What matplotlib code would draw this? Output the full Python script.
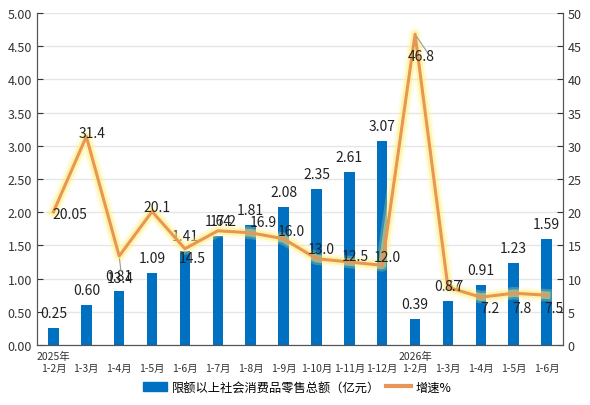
import matplotlib
matplotlib.use('Agg')
import matplotlib.pyplot as plt
import matplotlib.patheffects as pe
import numpy as np

plt.rcParams['font.family'] = ['Noto Sans CJK SC', 'DejaVu Sans']

# data
months = ['2025年\n1-2月', '1-3月', '1-4月', '1-5月', '1-6月', '1-7月', '1-8月', '1-9月',
          '1-10月', '1-11月', '1-12月', '2026年\n1-2月', '1-3月', '1-4月', '1-5月', '1-6月']
sales = [0.25, 0.60, 0.81, 1.09, 1.41, 1.64, 1.81, 2.08, 2.35, 2.61, 3.07, 0.39, 0.67, 0.91, 1.23, 1.59]
growth = [20.05, 31.4, 13.4, 20.1, 14.5, 17.2, 16.9, 16.0, 13.0, 12.5, 12.0, 46.8, 8.7, 7.2, 7.8, 7.5]
growth_txt = ['20.05', '31.4', '13.4', '20.1', '14.5', '17.2', '16.9', '16.0', '13.0', '12.5', '12.0',
              '46.8', '8.7', '7.2', '7.8', '7.5']

# label centre offsets from the point, in pixels (dx right, dy down)
lab_off = [(16, 2), (6, -3.5), (1, 22), (5, -4.5), (7, 9), (5, -10), (13, -11), (8, -8),
           (5, -10), (6, -6), (5, -8), (6, 22), (6, -1), (9, 11), (8, 15), (7, 13)]

bar_color = '#0070C0'
line_color = '#E8955A'
px = 72.0 / 100  # points per pixel

x = np.arange(len(months))

fig = plt.figure(figsize=(5.9, 4.06), dpi=100)
ax = fig.add_axes([37/590, 60/406, 526/590, 332/406])
ax2 = ax.twinx()

ax.bar(x, sales, width=0.32, color=bar_color, zorder=2)
for xi, v in zip(x, sales):
    ax.annotate('%.2f' % v, (xi, v), xytext=(0, -15 * -px), textcoords='offset points',
                ha='center', va='center', fontsize=10, color='#222222', zorder=5)

ax2.plot(x, growth, color=line_color, linewidth=2.2, zorder=3,
         path_effects=[pe.Stroke(linewidth=9, foreground='#FFF58A', alpha=0.25),
                       pe.Stroke(linewidth=5.5, foreground='#FFEE66', alpha=0.45),
                       pe.Normal()])
for i, (xi, v) in enumerate(zip(x, growth)):
    dx, dy = lab_off[i]
    ax2.annotate(growth_txt[i], (xi, v), xytext=(dx * px, -dy * px), textcoords='offset points',
                 ha='center', va='center', fontsize=10, color='#222222', zorder=6)
# leader lines
ax2.annotate('', (x[2], growth[2]), xytext=(x[2] + 0.06, growth[2] - 2.6),
             arrowprops=dict(arrowstyle='-', color='#999999', lw=0.8))
ax2.annotate('', (x[11], growth[11]), xytext=(x[11] + 0.45, growth[11] - 3.3),
             arrowprops=dict(arrowstyle='-', color='#999999', lw=0.8))

ax.set_xlim(-0.5, len(months) - 0.5)
ax.set_ylim(0, 5)
ax2.set_ylim(0, 50)
ax.set_yticks(np.arange(0, 5.01, 0.5))
ax.set_yticklabels(['%.2f' % t for t in np.arange(0, 5.01, 0.5)])
ax2.set_yticks(np.arange(0, 51, 5))
ax.set_xticks(x)
ax.set_xticklabels([m if '\n' in m else '\n' + m for m in months], fontsize=7.5, linespacing=1.25)
ax.tick_params(axis='x', length=0, pad=4, colors='#333333')
ax.tick_params(axis='y', direction='in', length=4, labelsize=9, colors='#333333')
ax2.tick_params(axis='y', direction='in', length=4, labelsize=9, colors='#333333')
ax.yaxis.grid(True, color='#E6E6E6', linewidth=1)
ax.set_axisbelow(True)

for a in [ax, ax2]:
    a.spines['top'].set_visible(False)
    for s in ['left', 'right', 'bottom']:
        a.spines[s].set_color('#555555')

h1 = plt.Rectangle((0, 0), 1, 1, color=bar_color)
h2 = plt.Line2D([], [], color=line_color, linewidth=3)
fig.legend([h1, h2], ['限额以上社会消费品零售总额（亿元）', '增速%'], loc='center',
           bbox_to_anchor=(297/590, 18/406), ncol=2, frameon=False, fontsize=8.8,
           handlelength=2.0, columnspacing=0.5, handletextpad=0.4)

fig.savefig('out.png', dpi=100)
